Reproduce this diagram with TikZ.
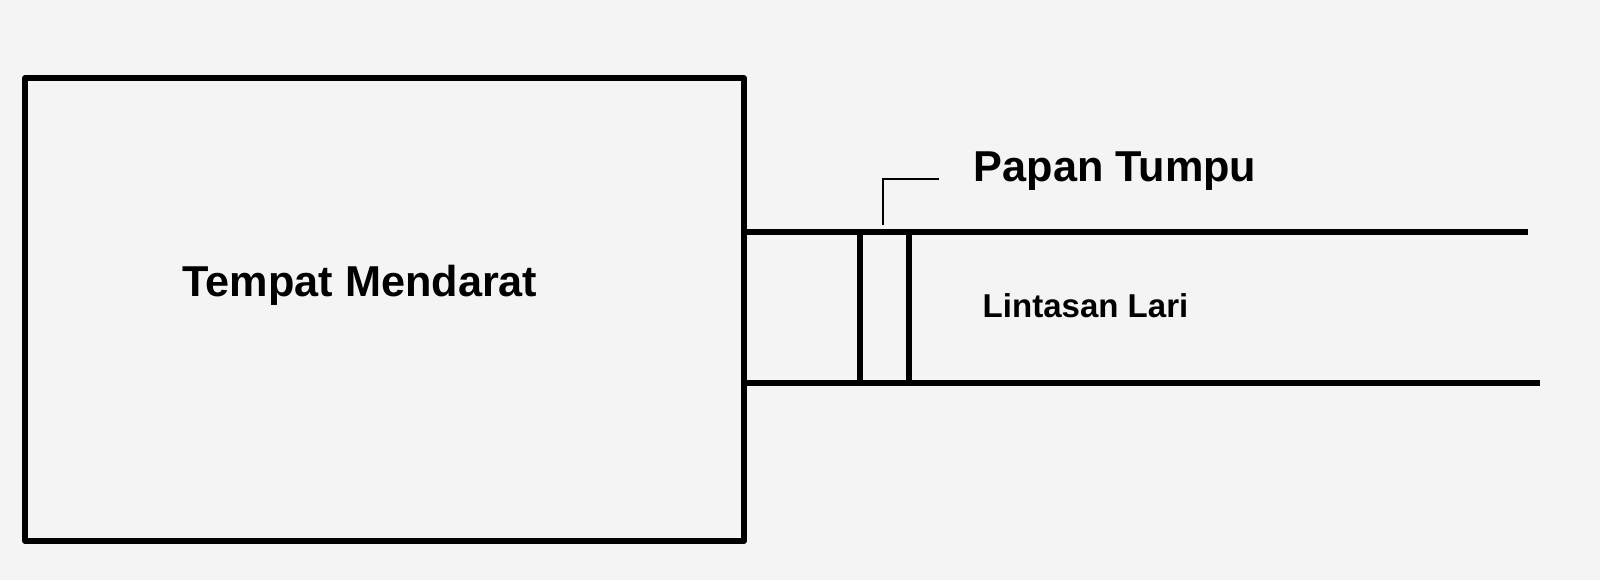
\documentclass[tikz,border=0pt]{standalone}
\usepackage{fontspec}
\setmainfont{Liberation Sans}
\definecolor{kertas}{RGB}{244,244,244}
\tikzset{
  garis/.style={line width=1.6pt, line join=round},
  tipis/.style={line width=0.6pt},
  besar/.style={inner sep=0pt, anchor=base west, font=\fontsize{12.3}{14}\selectfont\bfseries},
  kecil/.style={inner sep=0pt, anchor=base west, font=\fontsize{9.4}{11}\selectfont\bfseries}
}
\begin{document}
\begin{tikzpicture}
                \fill[kertas] (0,0) rectangle (16,5.8); % latar
                \useasboundingbox (0,0) rectangle (16,5.8);
                \node[garis, draw, minimum width=7.19cm, minimum height=4.63cm, inner sep=0pt] (mendarat) at (3.845,2.705) {}; % bak pasir
                \node[besar] (lbmendarat) at (1.82,2.83) {Tempat Mendarat};
                % lintasan
                \coordinate (ataskiri) at (mendarat.east |- 0,3.48);
                \coordinate (bawahkiri) at (mendarat.east |- 0,1.97);
                \coordinate (ataskanan) at (15.28,3.48);
                \coordinate (bawahkanan) at (15.40,1.97);
                \draw[garis] (ataskiri) -- (ataskanan);
                \draw[garis] (bawahkiri) -- (bawahkanan);
                \node[kecil] (lblari) at (9.82,2.63) {Lintasan Lari};
                % papan tumpu
                \coordinate (papan1) at (8.60,3.48);
                \coordinate (papan2) at (9.09,3.48);
                \draw[garis] (papan1) -- (papan1 |- bawahkiri);
                \draw[garis] (papan2) -- (papan2 |- bawahkiri);
                \node[besar] (lbpapan) at (9.73,3.98) {Papan Tumpu};
                \coordinate (tunjuk) at (8.83,3.55);
                \coordinate (siku) at (8.83,4.01);
                \coordinate (ujung) at (9.39,4.01);
                \draw[tipis] (tunjuk) -- (siku) -- (ujung);
            \end{tikzpicture}
\end{document}
